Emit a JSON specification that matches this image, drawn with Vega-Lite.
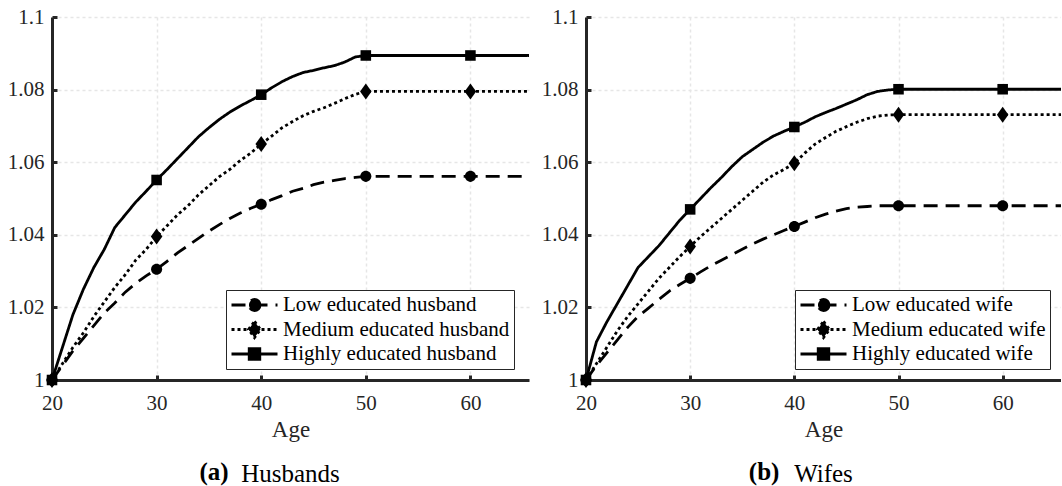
{
 "$schema": "https://vega.github.io/schema/vega-lite/v6.json",
 "background": "white",
 "padding": {"left": 7, "top": 6, "right": 0, "bottom": 0},
 "config": {
  "font": "Liberation Serif",
  "view": {"stroke": null},
  "axis": {"domainColor": "#262626", "domainWidth": 3, "tickColor": "#262626", "tickWidth": 3, "tickSize": -5, "labelFlush": false, "labelColor": "#262626", "labelFont": "Liberation Serif", "labelFontSize": 21, "titleFont": "Liberation Serif", "titleFontSize": 23, "titleFontWeight": "normal", "titleColor": "#262626", "gridColor": "#e6e6e6", "gridDash": [3, 3], "gridWidth": 1.5},
  "axisX": {"labelPadding": 17, "titlePadding": 5},
  "axisY": {"labelPadding": 13},
  "legend": {"labelFont": "Liberation Serif", "labelFontSize": 21, "labelColor": "black", "labelLimit": 0, "symbolSize": 2116, "symbolStrokeWidth": 2.8, "symbolOpacity": 1, "strokeColor": "#262626", "fillColor": "white", "padding": 4, "rowPadding": 2.5, "labelOffset": 4, "clipHeight": 22},
  "title": {"font": "Liberation Serif", "fontWeight": "normal", "color": "black"}
 },
 "datasets": {
  "husbands": [
   {"age": 20, "low": 1, "medium": 1, "high": 1},
   {"age": 21, "low": 1.004, "medium": 1.0045, "high": 1.009},
   {"age": 22, "low": 1.008, "medium": 1.009, "high": 1.018},
   {"age": 23, "low": 1.0115, "medium": 1.013, "high": 1.025},
   {"age": 24, "low": 1.015, "medium": 1.0175, "high": 1.031},
   {"age": 25, "low": 1.0185, "medium": 1.0215, "high": 1.036},
   {"age": 26, "low": 1.0212, "medium": 1.0255, "high": 1.042},
   {"age": 27, "low": 1.0242, "medium": 1.029, "high": 1.0455},
   {"age": 28, "low": 1.0266, "medium": 1.033, "high": 1.049},
   {"age": 29, "low": 1.0287, "medium": 1.036, "high": 1.052},
   {"age": 30, "low": 1.0305, "medium": 1.0395, "high": 1.0551},
   {"age": 31, "low": 1.0327, "medium": 1.0425, "high": 1.058},
   {"age": 32, "low": 1.035, "medium": 1.0455, "high": 1.061},
   {"age": 33, "low": 1.037, "medium": 1.048, "high": 1.064},
   {"age": 34, "low": 1.039, "medium": 1.051, "high": 1.067},
   {"age": 35, "low": 1.041, "medium": 1.0535, "high": 1.0695},
   {"age": 36, "low": 1.0428, "medium": 1.056, "high": 1.0718},
   {"age": 37, "low": 1.0445, "medium": 1.058, "high": 1.0738},
   {"age": 38, "low": 1.046, "medium": 1.0605, "high": 1.0755},
   {"age": 39, "low": 1.0473, "medium": 1.0625, "high": 1.077},
   {"age": 40, "low": 1.0484, "medium": 1.065, "high": 1.0786},
   {"age": 41, "low": 1.0497, "medium": 1.0672, "high": 1.0805},
   {"age": 42, "low": 1.0508, "medium": 1.0695, "high": 1.0822},
   {"age": 43, "low": 1.052, "medium": 1.0712, "high": 1.0836},
   {"age": 44, "low": 1.0528, "medium": 1.0728, "high": 1.0847},
   {"age": 45, "low": 1.0538, "medium": 1.074, "high": 1.0853},
   {"age": 46, "low": 1.0545, "medium": 1.075, "high": 1.086},
   {"age": 47, "low": 1.055, "medium": 1.0762, "high": 1.0866},
   {"age": 48, "low": 1.0555, "medium": 1.0775, "high": 1.0876},
   {"age": 49, "low": 1.0558, "medium": 1.0787, "high": 1.089},
   {"age": 50, "low": 1.0561, "medium": 1.0795, "high": 1.0894},
   {"age": 60, "low": 1.0561, "medium": 1.0795, "high": 1.0894},
   {"age": 66, "low": 1.0561, "medium": 1.0795, "high": 1.0894}
  ],
  "wives": [
   {"age": 20, "low": 1, "medium": 1, "high": 1},
   {"age": 21, "low": 1.004, "medium": 1.0045, "high": 1.0105},
   {"age": 22, "low": 1.0075, "medium": 1.009, "high": 1.016},
   {"age": 23, "low": 1.011, "medium": 1.0135, "high": 1.021},
   {"age": 24, "low": 1.0145, "medium": 1.0175, "high": 1.026},
   {"age": 25, "low": 1.0175, "medium": 1.021, "high": 1.031},
   {"age": 26, "low": 1.0198, "medium": 1.0245, "high": 1.034},
   {"age": 27, "low": 1.0222, "medium": 1.028, "high": 1.037},
   {"age": 28, "low": 1.0245, "medium": 1.031, "high": 1.0405},
   {"age": 29, "low": 1.0263, "medium": 1.034, "high": 1.044},
   {"age": 30, "low": 1.028, "medium": 1.0368, "high": 1.047},
   {"age": 31, "low": 1.0298, "medium": 1.0395, "high": 1.05},
   {"age": 32, "low": 1.0315, "medium": 1.042, "high": 1.053},
   {"age": 33, "low": 1.033, "medium": 1.0445, "high": 1.0558},
   {"age": 34, "low": 1.0345, "medium": 1.047, "high": 1.0588},
   {"age": 35, "low": 1.036, "medium": 1.0495, "high": 1.0615},
   {"age": 36, "low": 1.0375, "medium": 1.052, "high": 1.0635},
   {"age": 37, "low": 1.0388, "medium": 1.0545, "high": 1.0655},
   {"age": 38, "low": 1.04, "medium": 1.0565, "high": 1.0672},
   {"age": 39, "low": 1.0412, "medium": 1.058, "high": 1.0685},
   {"age": 40, "low": 1.0423, "medium": 1.0597, "high": 1.0697},
   {"age": 41, "low": 1.0435, "medium": 1.0625, "high": 1.071},
   {"age": 42, "low": 1.0447, "medium": 1.065, "high": 1.0725},
   {"age": 43, "low": 1.0457, "medium": 1.0668, "high": 1.0737},
   {"age": 44, "low": 1.0465, "medium": 1.0685, "high": 1.0748},
   {"age": 45, "low": 1.0472, "medium": 1.0698, "high": 1.076},
   {"age": 46, "low": 1.0476, "medium": 1.071, "high": 1.0772},
   {"age": 47, "low": 1.0478, "medium": 1.072, "high": 1.0786},
   {"age": 48, "low": 1.048, "medium": 1.0727, "high": 1.0795},
   {"age": 49, "low": 1.048, "medium": 1.073, "high": 1.0799},
   {"age": 50, "low": 1.048, "medium": 1.0731, "high": 1.0801},
   {"age": 60, "low": 1.048, "medium": 1.0731, "high": 1.0801},
   {"age": 66, "low": 1.048, "medium": 1.0731, "high": 1.0801}
  ]
 },
 "spacing": 12,
 "resolve": {"scale": {"strokeDash": "independent", "shape": "independent"}, "legend": {"strokeDash": "independent", "shape": "independent"}},
 "hconcat": [
  {
   "title": {"text": "(a)", "orient": "bottom", "anchor": "middle", "fontSize": 25, "fontWeight": "bold", "dx": -54, "offset": -27},
   "vconcat": [
    {
     "width": 477, "height": 363,
     "data": {"name": "husbands"},
     "transform": [{"fold": ["low", "medium", "high"], "as": ["edu", "value"]}],
     "title": {"text": "Husbands", "orient": "bottom", "anchor": "middle", "fontSize": 25, "offset": 21},
     "encoding": {
      "x": {"field": "age", "type": "quantitative", "scale": {"domain": [20, 65.6], "nice": false, "zero": false}, "axis": {"values": [20, 30, 40, 50, 60], "title": "Age"}},
      "y": {"field": "value", "type": "quantitative", "scale": {"domain": [1, 1.1], "nice": false, "zero": false}, "axis": {"values": [1, 1.02, 1.04, 1.06, 1.08, 1.1], "format": "~g", "title": null}}
     },
     "layer": [
      {
       "transform": [{"filter": {"field": "age", "equal": -1}}],
       "mark": {"type": "point", "filled": true, "color": "black", "stroke": "black", "strokeWidth": 2.8, "opacity": 1},
       "encoding": {
        "shape": {"field": "edu", "type": "nominal", "scale": {"domain": ["low", "medium", "high"], "range": ["M-1,0H1M0.24,0A0.24,0.24,0,1,1,-0.24,0A0.24,0.24,0,1,1,0.24,0Z", "M-1,0H1M0,-0.35L0.26,0L0,0.35L-0.26,0Z", "M-1,0H1M-0.23,-0.23H0.23V0.23H-0.23Z"]},
         "legend": {"orient": "none", "legendX": 174, "legendY": 273, "title": null,
          "labelExpr": "datum.value == 'low' ? 'Low educated husband' : datum.value == 'medium' ? 'Medium educated husband' : 'Highly educated husband'"}},
        "strokeDash": {"field": "edu", "type": "nominal", "scale": {"domain": ["low", "medium", "high"], "range": [[14, 8], [3, 3], [1, 0]]},
         "legend": {"orient": "none", "legendX": 174, "legendY": 273, "title": null,
          "labelExpr": "datum.value == 'low' ? 'Low educated husband' : datum.value == 'medium' ? 'Medium educated husband' : 'Highly educated husband'"}}
       }
      },
      {
       "mark": {"type": "line", "color": "black", "strokeWidth": 2.8, "clip": true},
       "encoding": {
        "strokeDash": {"field": "edu", "type": "nominal", "scale": {"domain": ["low", "medium", "high"], "range": [[14, 8], [3, 3], [1, 0]]}, "legend": null}
       }
      },
      {
       "transform": [{"filter": {"field": "age", "oneOf": [20, 30, 40, 50, 60]}}, {"filter": {"field": "edu", "equal": "low"}}],
       "mark": {"type": "point", "filled": true, "color": "black", "opacity": 1, "size": 256, "shape": "M0.69,0A0.69,0.69,0,1,1,-0.69,0A0.69,0.69,0,1,1,0.69,0Z"}
      },
      {
       "transform": [{"filter": {"field": "age", "oneOf": [20, 30, 40, 50, 60]}}, {"filter": {"field": "edu", "equal": "medium"}}],
       "mark": {"type": "point", "filled": true, "color": "black", "opacity": 1, "size": 256, "shape": "M0,-1L0.72,0L0,1L-0.72,0Z"}
      },
      {
       "transform": [{"filter": {"field": "age", "oneOf": [20, 30, 40, 50, 60]}}, {"filter": {"field": "edu", "equal": "high"}}],
       "mark": {"type": "point", "filled": true, "color": "black", "opacity": 1, "size": 256, "shape": "M-0.66,-0.66H0.66V0.66H-0.66Z"}
      }
     ]
    }
   ]
  },
  {
   "title": {"text": "(b)", "orient": "bottom", "anchor": "middle", "fontSize": 25, "fontWeight": "bold", "dx": -37, "offset": -27},
   "vconcat": [
    {
     "width": 475, "height": 363,
     "data": {"name": "wives"},
     "transform": [{"fold": ["low", "medium", "high"], "as": ["edu", "value"]}],
     "title": {"text": "Wifes", "orient": "bottom", "anchor": "middle", "fontSize": 25, "offset": 21},
     "encoding": {
      "x": {"field": "age", "type": "quantitative", "scale": {"domain": [20, 65.6], "nice": false, "zero": false}, "axis": {"values": [20, 30, 40, 50, 60], "title": "Age"}},
      "y": {"field": "value", "type": "quantitative", "scale": {"domain": [1, 1.1], "nice": false, "zero": false}, "axis": {"values": [1, 1.02, 1.04, 1.06, 1.08, 1.1], "format": "~g", "title": null}}
     },
     "layer": [
      {
       "transform": [{"filter": {"field": "age", "equal": -1}}],
       "mark": {"type": "point", "filled": true, "color": "black", "stroke": "black", "strokeWidth": 2.8, "opacity": 1},
       "encoding": {
        "shape": {"field": "edu", "type": "nominal", "scale": {"domain": ["low", "medium", "high"], "range": ["M-1,0H1M0.24,0A0.24,0.24,0,1,1,-0.24,0A0.24,0.24,0,1,1,0.24,0Z", "M-1,0H1M0,-0.35L0.26,0L0,0.35L-0.26,0Z", "M-1,0H1M-0.23,-0.23H0.23V0.23H-0.23Z"]},
         "legend": {"orient": "none", "legendX": 209, "legendY": 273, "title": null,
          "labelExpr": "datum.value == 'low' ? 'Low educated wife' : datum.value == 'medium' ? 'Medium educated wife' : 'Highly educated wife'"}},
        "strokeDash": {"field": "edu", "type": "nominal", "scale": {"domain": ["low", "medium", "high"], "range": [[14, 8], [3, 3], [1, 0]]},
         "legend": {"orient": "none", "legendX": 209, "legendY": 273, "title": null,
          "labelExpr": "datum.value == 'low' ? 'Low educated wife' : datum.value == 'medium' ? 'Medium educated wife' : 'Highly educated wife'"}}
       }
      },
      {
       "mark": {"type": "line", "color": "black", "strokeWidth": 2.8, "clip": true},
       "encoding": {
        "strokeDash": {"field": "edu", "type": "nominal", "scale": {"domain": ["low", "medium", "high"], "range": [[14, 8], [3, 3], [1, 0]]}, "legend": null}
       }
      },
      {
       "transform": [{"filter": {"field": "age", "oneOf": [20, 30, 40, 50, 60]}}, {"filter": {"field": "edu", "equal": "low"}}],
       "mark": {"type": "point", "filled": true, "color": "black", "opacity": 1, "size": 256, "shape": "M0.69,0A0.69,0.69,0,1,1,-0.69,0A0.69,0.69,0,1,1,0.69,0Z"}
      },
      {
       "transform": [{"filter": {"field": "age", "oneOf": [20, 30, 40, 50, 60]}}, {"filter": {"field": "edu", "equal": "medium"}}],
       "mark": {"type": "point", "filled": true, "color": "black", "opacity": 1, "size": 256, "shape": "M0,-1L0.72,0L0,1L-0.72,0Z"}
      },
      {
       "transform": [{"filter": {"field": "age", "oneOf": [20, 30, 40, 50, 60]}}, {"filter": {"field": "edu", "equal": "high"}}],
       "mark": {"type": "point", "filled": true, "color": "black", "opacity": 1, "size": 256, "shape": "M-0.66,-0.66H0.66V0.66H-0.66Z"}
      }
     ]
    }
   ]
  }
 ]
}
